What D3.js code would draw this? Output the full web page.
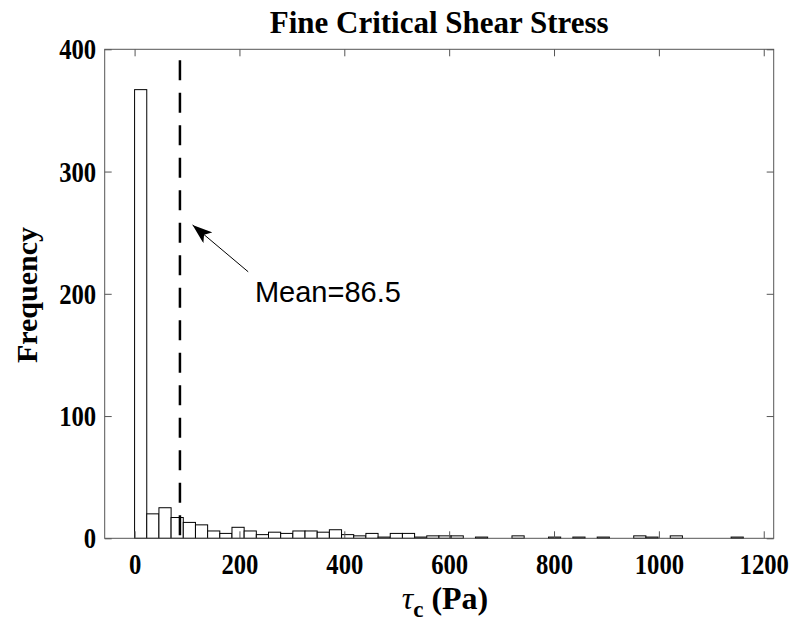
<!DOCTYPE html>
<html>
<head>
<meta charset="utf-8">
<script src="https://cdn.jsdelivr.net/npm/d3@7"></script>
<style>
  body { margin: 0; background: #fff; }
  svg { display: block; }
</style>
</head>
<body>
<div class="graph"></div>
<script>
// histogram data
let binMin = 0
let binMax = 1161
let counts = [367, 20, 25, 17, 13, 11, 6, 4, 9, 6,
              3, 5, 4, 6, 6, 5, 7, 3, 2, 4,
              1, 4, 4, 1, 2, 2, 2, 0, 1, 0,
              0, 2, 0, 0, 1, 0, 1, 0, 1, 0,
              0, 2, 1, 0, 2, 0, 0, 0, 0, 1]
let meanValue = 86.5
let xTicks = [0, 200, 400, 600, 800, 1000, 1200]
let yTicks = [0, 100, 200, 300, 400]

let svgWidth = 795
let svgHeight = 630

let margin = {
    left: 104.7,
    right: 21.3,
    top: 49.3,
    bottom: 91.7
}
let width = svgWidth - margin.left - margin.right
let height = svgHeight - margin.top - margin.bottom

let svg = d3.select('.graph')
    .append('svg')
    .attr('width', svgWidth)
    .attr('height', svgHeight)

let g = svg.append('g')
    .attr('transform', `translate(${margin.left},${margin.top})`)

let xScale = d3.scaleLinear()
    .domain([-57, 1219])
    .range([0, width])
let yScale = d3.scaleLinear()
    .domain([0, 400])
    .range([height, 0])

// bins
let binWidth = (binMax - binMin) / counts.length
let bins = counts.map((c, i) => ({
    x0: binMin + i * binWidth,
    x1: binMin + (i + 1) * binWidth,
    count: c
}))

g.selectAll('rect.bar')
    .data(bins.filter(d => d.count > 0))
    .join('rect')
    .attr('class', 'bar')
    .attr('x', d => xScale(d.x0))
    .attr('width', d => xScale(d.x1) - xScale(d.x0))
    .attr('y', d => yScale(d.count))
    .attr('height', d => yScale(0) - yScale(d.count))
    .attr('fill', '#fff')
    .attr('stroke', '#000')
    .attr('stroke-width', 1)

// axes (ticks inside, box all round)
let tickLen = 7
let axisColor = '#555'
let serif = '"Liberation Serif", "Times New Roman", serif'

let xAxis = d3.axisBottom(xScale).tickValues(xTicks).tickSize(-tickLen).tickPadding(13).tickFormat(d3.format('d'))
let yAxis = d3.axisLeft(yScale).tickValues(yTicks).tickSize(-tickLen).tickPadding(9).tickFormat(d3.format('d'))
let xTop = d3.axisTop(xScale).tickValues(xTicks).tickSize(-tickLen).tickFormat('')
let yRight = d3.axisRight(yScale).tickValues(yTicks).tickSize(-tickLen).tickFormat('')

function styleAxis(sel) {
    sel.select('.domain').remove()
    sel.selectAll('line').attr('stroke', axisColor)
    sel.selectAll('text')
        .attr('fill', '#000')
        .attr('transform', 'scale(0.95,1.15)')
        .style('font-family', serif)
        .style('font-size', '26px')
        .style('font-weight', 'bold')
}

g.append('g').attr('transform', `translate(0,${height})`).call(xAxis).call(styleAxis)
g.append('g').call(yAxis).call(styleAxis)
g.append('g').call(xTop).call(styleAxis)
g.append('g').attr('transform', `translate(${width},0)`).call(yRight).call(styleAxis)

g.append('rect')
    .attr('x', 0)
    .attr('y', 0)
    .attr('width', width)
    .attr('height', height)
    .attr('fill', 'none')
    .attr('stroke', axisColor)
    .attr('stroke-width', 1)

// mean line
g.append('line')
    .attr('x1', xScale(meanValue))
    .attr('x2', xScale(meanValue))
    .attr('y1', yScale(391))
    .attr('y2', yScale(0))
    .attr('stroke', '#000')
    .attr('stroke-width', 2.5)
    .attr('stroke-dasharray', '20,12.5')

// arrow + label
svg.append('defs').append('marker')
    .attr('id', 'head')
    .attr('viewBox', '0 0 20 14')
    .attr('refX', 20)
    .attr('refY', 7)
    .attr('markerWidth', 20)
    .attr('markerHeight', 14)
    .attr('markerUnits', 'userSpaceOnUse')
    .attr('orient', 'auto')
    .append('path')
    .attr('d', 'M0,0 L20,7 L0,14 L5,7 Z')
    .attr('fill', '#000')

g.append('line')
    .attr('x1', xScale(216.7))
    .attr('y1', yScale(218))
    .attr('x2', xScale(110.6))
    .attr('y2', yScale(256.3))
    .attr('stroke', '#000')
    .attr('stroke-width', 1)
    .attr('marker-end', 'url(#head)')

g.append('text')
    .attr('x', xScale(229.6))
    .attr('y', yScale(193.6))
    .text('Mean=' + meanValue)
    .style('font-family', '"Liberation Sans", Arial, sans-serif')
    .style('font-size', '29px')

// title and axis labels
svg.append('text')
    .attr('x', margin.left + width / 2)
    .attr('y', 33)
    .attr('text-anchor', 'middle')
    .style('font-family', serif)
    .style('font-size', '31px')
    .style('font-weight', 'bold')
    .text('Fine Critical Shear Stress')

svg.append('text')
    .attr('transform', 'translate(37,295) rotate(-90)')
    .attr('text-anchor', 'middle')
    .style('font-family', serif)
    .style('font-size', '30px')
    .style('font-weight', 'bold')
    .text('Frequency')

let xl = svg.append('text')
    .attr('x', 445)
    .attr('y', 609)
    .attr('text-anchor', 'middle')
    .style('font-family', serif)
    .style('font-size', '32px')
    .style('font-weight', 'bold')
xl.append('tspan').style('font-style', 'italic').style('font-weight', 'normal').text('τ')
xl.append('tspan').attr('dy', 8).style('font-size', '23px').text('c')
xl.append('tspan').attr('dy', -8).text(' (Pa)')
</script>
</body>
</html>
